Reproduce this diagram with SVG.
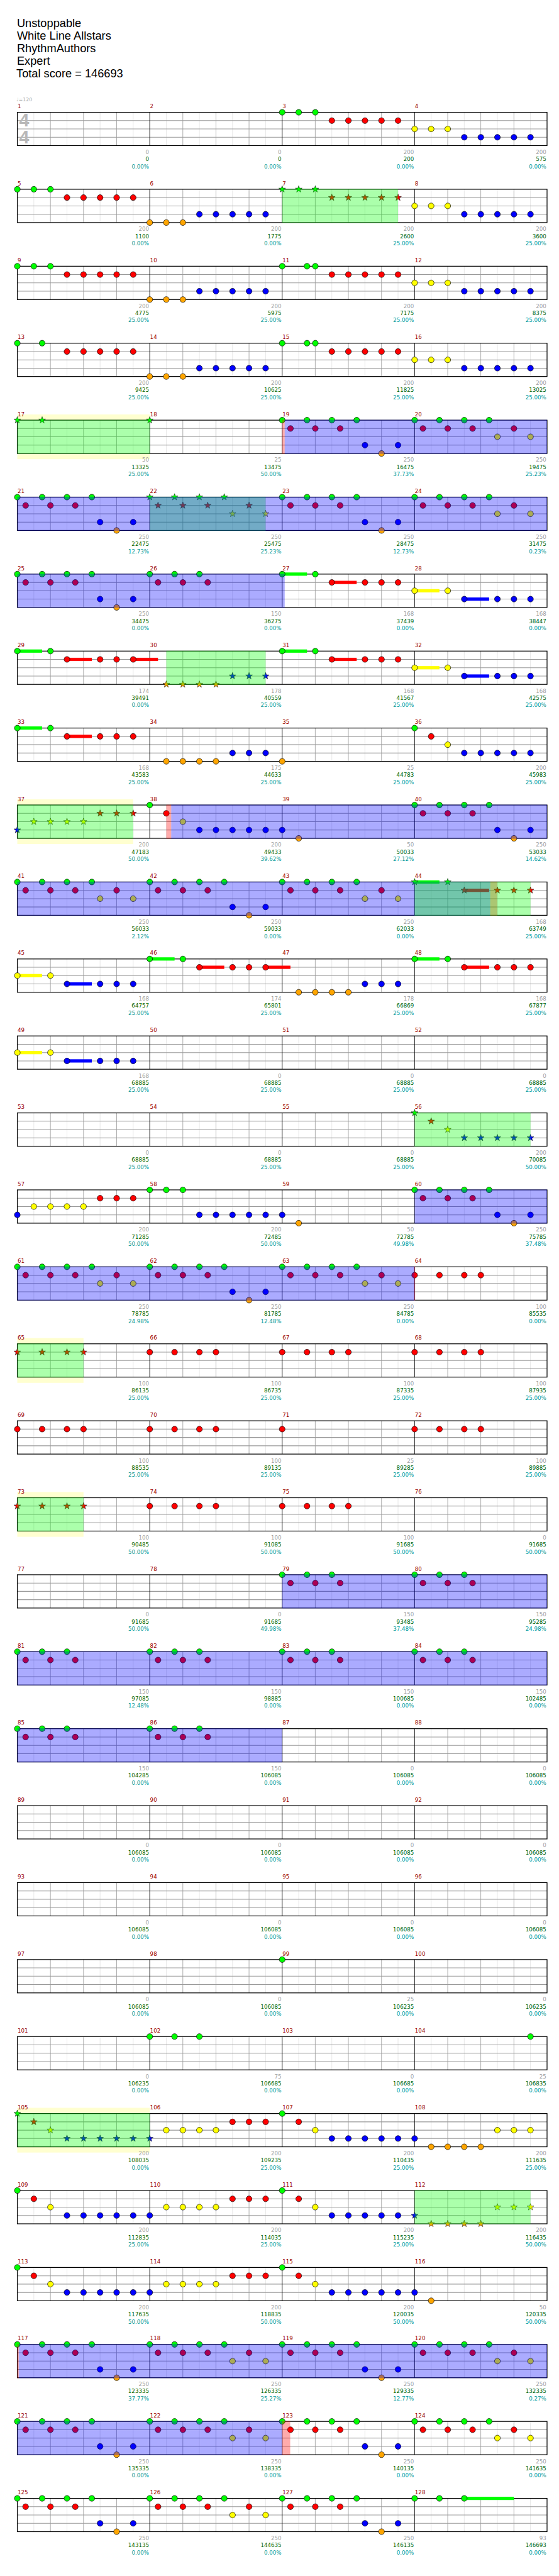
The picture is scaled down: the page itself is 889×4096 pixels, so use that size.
<svg xmlns="http://www.w3.org/2000/svg" width="889" height="4096" viewBox="0 0 889 4096">
<style>
text{font-family:"DejaVu Sans",sans-serif;font-size:10px}
.hd{font-family:"Liberation Sans",sans-serif;font-size:21px;fill:#000}
.ts{font-family:"Liberation Sans",sans-serif;font-weight:bold;font-size:33px;fill:#b8b8b8}
.tp{font-size:9px;fill:#aaa}
.mn{fill:#990000}
.lb{fill:#a0a0a0;text-anchor:end}
.s{fill:#006400}
.p{fill:#009999}
.n{stroke:#000;stroke-width:.8}
.st{stroke:#000;stroke-width:.6}
.g{fill:#00ff00}.r{fill:#ff0000}.y{fill:#ffff00}.b{fill:#0000ff}.o{fill:#ffa500}
.sp{fill:#00ff00;fill-opacity:.33}
.bo{fill:#0000ff;fill-opacity:.33}
.pk{fill:#ff0000;fill-opacity:.33}
.yb{fill:#ffffd0}
</style>
<defs>
<g id="staff">
<rect x="31.7" y="0" width="970.6" height="61" fill="#fff"/>
<path stroke="#e4e4e4" stroke-width="1" fill="none" d="M62 0V61M122.7 0V61M183.4 0V61M244 0V61M304.7 0V61M365.3 0V61M426 0V61M486.7 0V61M547.3 0V61M608 0V61M668.6 0V61M729.3 0V61M790 0V61M850.6 0V61M911.3 0V61M971.9 0V61"/>
<path stroke="#a0a0a0" stroke-width="1" fill="none" d="M92.4 0V61M153 0V61M213.7 0V61M335 0V61M395.7 0V61M456.3 0V61M577.6 0V61M638.3 0V61M699 0V61M820.3 0V61M880.9 0V61M941.6 0V61"/>
<path stroke="#999" stroke-width="1.2" fill="none" d="M31.7 15.25H1002.3M31.7 30.5H1002.3M31.7 45.75H1002.3"/>
<path stroke="#000" stroke-width="1" fill="none" d="M274.35 0V61M517 0V61M759.65 0V61"/>
<rect x="31.7" y="0" width="970.6" height="61" fill="none" stroke="#000" stroke-width="1.4"/>
</g>
<circle id="G" class="n g" r="5.3"/>
<circle id="R" class="n r" cy="15.25" r="5.3"/>
<circle id="Y" class="n y" cy="30.5" r="5.3"/>
<circle id="B" class="n b" cy="45.75" r="5.3"/>
<circle id="O" class="n o" cy="61" r="5.3"/>
<path id="st" class="st" d="M0-6.5L1.53-2.1 6.18-2.01 2.47.8 3.82 5.26 0 2.6-3.82 5.26-2.47.8-6.18-2.01-1.53-2.1Z"/>
<use id="sG" href="#st" class="g"/>
<use id="sR" href="#st" class="r" y="15.25"/>
<use id="sY" href="#st" class="y" y="30.5"/>
<use id="sB" href="#st" class="b" y="45.75"/>
<use id="sO" href="#st" class="o" y="61"/>
<g id="P1"><use href="#G"/><use href="#G" x="30.3"/><use href="#G" x="60.7"/><use href="#R" x="91"/><use href="#R" x="121.3"/><use href="#R" x="151.7"/><use href="#R" x="182"/><use href="#R" x="212.3"/></g>
<g id="P1s"><use href="#sG"/><use href="#sG" x="30.3"/><use href="#sG" x="60.7"/><use href="#sR" x="91"/><use href="#sR" x="121.3"/><use href="#sR" x="151.7"/><use href="#sR" x="182"/><use href="#sR" x="212.3"/></g>
<g id="P1b"><use href="#G"/><use href="#G" x="45.5"/><use href="#G" x="60.7"/><use href="#R" x="91"/><use href="#R" x="121.3"/><use href="#R" x="151.7"/><use href="#R" x="182"/><use href="#R" x="212.3"/></g>
<g id="P1c"><use href="#G"/><use href="#G" x="45.5"/><use href="#R" x="91"/><use href="#R" x="121.3"/><use href="#R" x="151.7"/><use href="#R" x="182"/><use href="#R" x="212.3"/></g>
<g id="P2"><use href="#Y"/><use href="#Y" x="30.3"/><use href="#Y" x="60.7"/><use href="#B" x="91"/><use href="#B" x="121.3"/><use href="#B" x="151.7"/><use href="#B" x="182"/><use href="#B" x="212.3"/></g>
<g id="P3"><use href="#O"/><use href="#O" x="30.3"/><use href="#O" x="60.7"/><use href="#B" x="91"/><use href="#B" x="121.3"/><use href="#B" x="151.7"/><use href="#B" x="182"/><use href="#B" x="212.3"/></g>
<g id="PA"><use href="#G"/><use href="#G" x="45.5"/><use href="#G" x="91"/><use href="#G" x="136.5"/><use href="#R" x="15.2"/><use href="#R" x="60.7"/><use href="#R" x="106.2"/><use href="#B" x="151.7"/><use href="#O" x="182"/><use href="#B" x="212.3"/></g>
<g id="PB"><use href="#G"/><use href="#G" x="45.5"/><use href="#G" x="91"/><use href="#G" x="136.5"/><use href="#R" x="15.2"/><use href="#R" x="60.7"/><use href="#R" x="106.2"/><use href="#R" x="182"/><use href="#Y" x="151.7"/><use href="#Y" x="212.3"/></g>
<g id="PBs"><use href="#sG"/><use href="#sG" x="45.5"/><use href="#sG" x="91"/><use href="#sG" x="136.5"/><use href="#sR" x="15.2"/><use href="#sR" x="60.7"/><use href="#sR" x="106.2"/><use href="#sR" x="182"/><use href="#sY" x="151.7"/><use href="#sY" x="212.3"/></g>
<g id="PC"><use href="#G"/><use href="#G" x="45.5"/><use href="#G" x="91"/><use href="#R" x="15.2"/><use href="#R" x="60.7"/><use href="#R" x="106.2"/></g>
<g id="PR"><use href="#R"/><use href="#R" x="45.5"/><use href="#R" x="91"/><use href="#R" x="121.3"/></g>
<g id="PRs"><use href="#sR"/><use href="#sR" x="45.5"/><use href="#sR" x="91"/><use href="#sR" x="121.3"/></g>
<g id="S1"><rect class="g" y="-3" width="45.5" height="6"/><rect class="r" x="91" y="12.25" width="45.5" height="6"/><use href="#G"/><use href="#G" x="60.7"/><use href="#R" x="91"/><use href="#R" x="151.7"/><use href="#R" x="182"/><use href="#R" x="212.3"/></g>
<g id="S1b"><rect class="g" y="-3" width="45.5" height="6"/><rect class="r" x="91" y="12.25" width="45.5" height="6"/><rect class="r" x="212.3" y="12.25" width="45.5" height="6"/><use href="#G"/><use href="#G" x="60.7"/><use href="#R" x="91"/><use href="#R" x="151.7"/><use href="#R" x="182"/><use href="#R" x="212.3"/></g>
<g id="S2"><rect class="y" y="27.5" width="45.5" height="6"/><rect class="b" x="91" y="42.75" width="45.5" height="6"/><use href="#Y"/><use href="#Y" x="60.7"/><use href="#B" x="91"/><use href="#B" x="151.7"/><use href="#B" x="182"/><use href="#B" x="212.3"/></g>
<g id="Q0"><use href="#G" x="31.7"/><use href="#R" x="62"/><use href="#Y" x="92.4"/><use href="#B" x="122.7"/><use href="#B" x="153"/><use href="#B" x="183.4"/><use href="#B" x="213.7"/><use href="#B" x="244"/><use href="#B" x="274.35"/></g>
<g id="Q1"><use href="#Y" x="304.7"/><use href="#Y" x="335"/><use href="#Y" x="365.3"/><use href="#Y" x="395.7"/><use href="#R" x="426"/><use href="#R" x="456.3"/><use href="#R" x="486.7"/><use href="#G" x="517"/><use href="#R" x="547.3"/><use href="#Y" x="577.6"/><use href="#B" x="608"/><use href="#B" x="638.3"/><use href="#B" x="668.6"/><use href="#B" x="699"/><use href="#B" x="729.3"/></g>
</defs>
<g transform="scale(0.868)">
<g id="header">
<text class="hd" x="31" y="49.3">Unstoppable</text>
<text class="hd" x="31" y="72.3">White Line Allstars</text>
<text class="hd" x="31" y="95.3">RhythmAuthors</text>
<text class="hd" x="31" y="118.3">Expert</text>
<text class="hd" x="30" y="141.3">Total score = 146693</text>
</g>

<g id="row1" transform="translate(0,205.7)">
<use href="#staff"/>
<text class="tp" x="30" y="-20.2">♩=120</text>
<text class="ts" x="35" y="26.3">4</text><text class="ts" x="35" y="56.6">4</text>
<use href="#P1" x="517"/><use href="#P2" x="759.65"/>
<text class="mn" x="32.2" y="-7.3">1</text><text class="mn" x="274.9" y="-7.3">2</text><text class="mn" x="517.5" y="-7.3">3</text><text class="mn" x="760.2" y="-7.3">4</text>
<text class="lb" x="273" y="76.5">0<tspan class="s" x="273" dy="13">0</tspan><tspan class="p" x="273" dy="13.2">0.00%</tspan></text>
<text class="lb" x="515.7" y="76.5">0<tspan class="s" x="515.7" dy="13">0</tspan><tspan class="p" x="515.7" dy="13.2">0.00%</tspan></text>
<text class="lb" x="758.3" y="76.5">200<tspan class="s" x="758.3" dy="13">200</tspan><tspan class="p" x="758.3" dy="13.2">0.00%</tspan></text>
<text class="lb" x="1001" y="76.5">200<tspan class="s" x="1001" dy="13">575</tspan><tspan class="p" x="1001" dy="13.2">0.00%</tspan></text>
</g>

<g id="row2" transform="translate(0,346.7)">
<use href="#staff"/>
<use href="#P1" x="31.7"/><use href="#P3" x="274.35"/><use href="#P1s" x="517"/><use href="#P2" x="759.65"/>
<rect class="sp" x="517" y="-.7" width="212.3" height="62.4"/>
<text class="mn" x="32.2" y="-7.3">5</text><text class="mn" x="274.9" y="-7.3">6</text><text class="mn" x="517.5" y="-7.3">7</text><text class="mn" x="760.2" y="-7.3">8</text>
<text class="lb" x="273" y="76.5">200<tspan class="s" x="273" dy="13">1100</tspan><tspan class="p" x="273" dy="13.2">0.00%</tspan></text>
<text class="lb" x="515.7" y="76.5">200<tspan class="s" x="515.7" dy="13">1775</tspan><tspan class="p" x="515.7" dy="13.2">0.00%</tspan></text>
<text class="lb" x="758.3" y="76.5">200<tspan class="s" x="758.3" dy="13">2600</tspan><tspan class="p" x="758.3" dy="13.2">25.00%</tspan></text>
<text class="lb" x="1001" y="76.5">200<tspan class="s" x="1001" dy="13">3600</tspan><tspan class="p" x="1001" dy="13.2">25.00%</tspan></text>
</g>

<g id="row3" transform="translate(0,487.7)">
<use href="#staff"/>
<use href="#P1" x="31.7"/><use href="#P3" x="274.35"/><use href="#P1b" x="517"/><use href="#P2" x="759.65"/>
<text class="mn" x="32.2" y="-7.3">9</text><text class="mn" x="274.9" y="-7.3">10</text><text class="mn" x="517.5" y="-7.3">11</text><text class="mn" x="760.2" y="-7.3">12</text>
<text class="lb" x="273" y="76.5">200<tspan class="s" x="273" dy="13">4775</tspan><tspan class="p" x="273" dy="13.2">25.00%</tspan></text>
<text class="lb" x="515.7" y="76.5">200<tspan class="s" x="515.7" dy="13">5975</tspan><tspan class="p" x="515.7" dy="13.2">25.00%</tspan></text>
<text class="lb" x="758.3" y="76.5">200<tspan class="s" x="758.3" dy="13">7175</tspan><tspan class="p" x="758.3" dy="13.2">25.00%</tspan></text>
<text class="lb" x="1001" y="76.5">200<tspan class="s" x="1001" dy="13">8375</tspan><tspan class="p" x="1001" dy="13.2">25.00%</tspan></text>
</g>

<g id="row4" transform="translate(0,628.7)">
<use href="#staff"/>
<use href="#P1c" x="31.7"/><use href="#P3" x="274.35"/><use href="#P1b" x="517"/><use href="#P2" x="759.65"/>
<text class="mn" x="32.2" y="-7.3">13</text><text class="mn" x="274.9" y="-7.3">14</text><text class="mn" x="517.5" y="-7.3">15</text><text class="mn" x="760.2" y="-7.3">16</text>
<text class="lb" x="273" y="76.5">200<tspan class="s" x="273" dy="13">9425</tspan><tspan class="p" x="273" dy="13.2">25.00%</tspan></text>
<text class="lb" x="515.7" y="76.5">200<tspan class="s" x="515.7" dy="13">10625</tspan><tspan class="p" x="515.7" dy="13.2">25.00%</tspan></text>
<text class="lb" x="758.3" y="76.5">200<tspan class="s" x="758.3" dy="13">11825</tspan><tspan class="p" x="758.3" dy="13.2">25.00%</tspan></text>
<text class="lb" x="1001" y="76.5">200<tspan class="s" x="1001" dy="13">13025</tspan><tspan class="p" x="1001" dy="13.2">25.00%</tspan></text>
</g>

<g id="row5" transform="translate(0,769.7)">
<rect class="yb" x="31.7" y="-10.5" width="242.65" height="82"/>
<use href="#staff"/>
<use href="#sG" x="31.7"/><use href="#sG" x="77.2"/><use href="#sG" x="274.35"/>
<use href="#PA" x="517"/><use href="#PB" x="759.65"/>
<rect class="sp" x="31.7" y="-.7" width="242.65" height="62.4"/>
<rect class="pk" x="517" y="-.7" width="4.6" height="62.4"/>
<rect class="bo" x="521.6" y="-.7" width="480.7" height="62.4"/>
<text class="mn" x="32.2" y="-7.3">17</text><text class="mn" x="274.9" y="-7.3">18</text><text class="mn" x="517.5" y="-7.3">19</text><text class="mn" x="760.2" y="-7.3">20</text>
<text class="lb" x="273" y="76.5">50<tspan class="s" x="273" dy="13">13325</tspan><tspan class="p" x="273" dy="13.2">25.00%</tspan></text>
<text class="lb" x="515.7" y="76.5">25<tspan class="s" x="515.7" dy="13">13475</tspan><tspan class="p" x="515.7" dy="13.2">50.00%</tspan></text>
<text class="lb" x="758.3" y="76.5">250<tspan class="s" x="758.3" dy="13">16475</tspan><tspan class="p" x="758.3" dy="13.2">37.73%</tspan></text>
<text class="lb" x="1001" y="76.5">250<tspan class="s" x="1001" dy="13">19475</tspan><tspan class="p" x="1001" dy="13.2">25.23%</tspan></text>
</g>

<g id="row6" transform="translate(0,910.7)">
<use href="#staff"/>
<use href="#PA" x="31.7"/><use href="#PBs" x="274.35"/><use href="#PA" x="517"/><use href="#PB" x="759.65"/>
<rect class="sp" x="274.35" y="-.7" width="212.3" height="62.4"/>
<rect class="bo" x="31.7" y="-.7" width="970.6" height="62.4"/>
<text class="mn" x="32.2" y="-7.3">21</text><text class="mn" x="274.9" y="-7.3">22</text><text class="mn" x="517.5" y="-7.3">23</text><text class="mn" x="760.2" y="-7.3">24</text>
<text class="lb" x="273" y="76.5">250<tspan class="s" x="273" dy="13">22475</tspan><tspan class="p" x="273" dy="13.2">12.73%</tspan></text>
<text class="lb" x="515.7" y="76.5">250<tspan class="s" x="515.7" dy="13">25475</tspan><tspan class="p" x="515.7" dy="13.2">25.23%</tspan></text>
<text class="lb" x="758.3" y="76.5">250<tspan class="s" x="758.3" dy="13">28475</tspan><tspan class="p" x="758.3" dy="13.2">12.73%</tspan></text>
<text class="lb" x="1001" y="76.5">250<tspan class="s" x="1001" dy="13">31475</tspan><tspan class="p" x="1001" dy="13.2">0.23%</tspan></text>
</g>

<g id="row7" transform="translate(0,1051.7)">
<use href="#staff"/>
<use href="#PA" x="31.7"/><use href="#PC" x="274.35"/><use href="#S1" x="517"/><use href="#S2" x="759.65"/>
<rect class="bo" x="31.7" y="-.7" width="489.9" height="62.4"/>
<text class="mn" x="32.2" y="-7.3">25</text><text class="mn" x="274.9" y="-7.3">26</text><text class="mn" x="517.5" y="-7.3">27</text><text class="mn" x="760.2" y="-7.3">28</text>
<text class="lb" x="273" y="76.5">250<tspan class="s" x="273" dy="13">34475</tspan><tspan class="p" x="273" dy="13.2">0.00%</tspan></text>
<text class="lb" x="515.7" y="76.5">150<tspan class="s" x="515.7" dy="13">36275</tspan><tspan class="p" x="515.7" dy="13.2">0.00%</tspan></text>
<text class="lb" x="758.3" y="76.5">168<tspan class="s" x="758.3" dy="13">37439</tspan><tspan class="p" x="758.3" dy="13.2">0.00%</tspan></text>
<text class="lb" x="1001" y="76.5">168<tspan class="s" x="1001" dy="13">38447</tspan><tspan class="p" x="1001" dy="13.2">0.00%</tspan></text>
</g>

<g id="row8" transform="translate(0,1192.7)">
<use href="#staff"/>
<use href="#S1b" x="31.7"/>
<use href="#sO" x="304.7"/><use href="#sO" x="335"/><use href="#sO" x="365.3"/><use href="#sO" x="395.7"/>
<use href="#sB" x="426"/><use href="#sB" x="456.3"/><use href="#sB" x="486.7"/>
<use href="#S1" x="517"/><use href="#S2" x="759.65"/>
<rect class="sp" x="304.7" y="-.7" width="182" height="62.4"/>
<text class="mn" x="32.2" y="-7.3">29</text><text class="mn" x="274.9" y="-7.3">30</text><text class="mn" x="517.5" y="-7.3">31</text><text class="mn" x="760.2" y="-7.3">32</text>
<text class="lb" x="273" y="76.5">174<tspan class="s" x="273" dy="13">39491</tspan><tspan class="p" x="273" dy="13.2">0.00%</tspan></text>
<text class="lb" x="515.7" y="76.5">178<tspan class="s" x="515.7" dy="13">40559</tspan><tspan class="p" x="515.7" dy="13.2">25.00%</tspan></text>
<text class="lb" x="758.3" y="76.5">168<tspan class="s" x="758.3" dy="13">41567</tspan><tspan class="p" x="758.3" dy="13.2">25.00%</tspan></text>
<text class="lb" x="1001" y="76.5">168<tspan class="s" x="1001" dy="13">42575</tspan><tspan class="p" x="1001" dy="13.2">25.00%</tspan></text>
</g>

<g id="row9" transform="translate(0,1333.7)">
<use href="#staff"/>
<use href="#S1" x="31.7"/>
<use href="#O" x="304.7"/><use href="#O" x="335"/><use href="#O" x="365.3"/><use href="#O" x="395.7"/>
<use href="#B" x="426"/><use href="#B" x="456.3"/><use href="#B" x="486.7"/><use href="#O" x="517"/>
<use href="#G" x="759.65"/><use href="#R" x="790"/><use href="#Y" x="820.3"/>
<use href="#B" x="850.6"/><use href="#B" x="880.9"/><use href="#B" x="911.3"/><use href="#B" x="941.6"/><use href="#B" x="971.9"/>
<text class="mn" x="32.2" y="-7.3">33</text><text class="mn" x="274.9" y="-7.3">34</text><text class="mn" x="517.5" y="-7.3">35</text><text class="mn" x="760.2" y="-7.3">36</text>
<text class="lb" x="273" y="76.5">168<tspan class="s" x="273" dy="13">43583</tspan><tspan class="p" x="273" dy="13.2">25.00%</tspan></text>
<text class="lb" x="515.7" y="76.5">175<tspan class="s" x="515.7" dy="13">44633</tspan><tspan class="p" x="515.7" dy="13.2">25.00%</tspan></text>
<text class="lb" x="758.3" y="76.5">25<tspan class="s" x="758.3" dy="13">44783</tspan><tspan class="p" x="758.3" dy="13.2">25.00%</tspan></text>
<text class="lb" x="1001" y="76.5">200<tspan class="s" x="1001" dy="13">45983</tspan><tspan class="p" x="1001" dy="13.2">25.00%</tspan></text>
</g>

<g id="row10" transform="translate(0,1474.7)">
<rect class="yb" x="31.7" y="-10.5" width="212.3" height="82"/>
<use href="#staff"/>
<use href="#sB" x="31.7"/><use href="#sY" x="62"/><use href="#sY" x="92.4"/><use href="#sY" x="122.7"/><use href="#sY" x="153"/>
<use href="#sR" x="183.4"/><use href="#sR" x="213.7"/><use href="#sR" x="244"/>
<use href="#G" x="274.35"/><use href="#R" x="304.7"/><use href="#Y" x="335"/>
<use href="#B" x="365.3"/><use href="#B" x="395.7"/><use href="#B" x="426"/><use href="#B" x="456.3"/><use href="#B" x="486.7"/><use href="#B" x="517"/><use href="#O" x="547.3"/>
<use href="#PA" x="759.65"/>
<rect class="sp" x="31.7" y="-.7" width="212.3" height="62.4"/>
<rect class="pk" x="304.7" y="-.7" width="9" height="62.4"/>
<rect class="bo" x="313.7" y="-.7" width="688.6" height="62.4"/>
<text class="mn" x="32.2" y="-7.3">37</text><text class="mn" x="274.9" y="-7.3">38</text><text class="mn" x="517.5" y="-7.3">39</text><text class="mn" x="760.2" y="-7.3">40</text>
<text class="lb" x="273" y="76.5">200<tspan class="s" x="273" dy="13">47183</tspan><tspan class="p" x="273" dy="13.2">50.00%</tspan></text>
<text class="lb" x="515.7" y="76.5">200<tspan class="s" x="515.7" dy="13">49433</tspan><tspan class="p" x="515.7" dy="13.2">39.62%</tspan></text>
<text class="lb" x="758.3" y="76.5">50<tspan class="s" x="758.3" dy="13">50033</tspan><tspan class="p" x="758.3" dy="13.2">27.12%</tspan></text>
<text class="lb" x="1001" y="76.5">250<tspan class="s" x="1001" dy="13">53033</tspan><tspan class="p" x="1001" dy="13.2">14.62%</tspan></text>
</g>

<g id="row11" transform="translate(0,1615.7)">
<use href="#staff"/>
<use href="#PB" x="31.7"/><use href="#PA" x="274.35"/><use href="#PB" x="517"/>
<rect class="g" x="759.65" y="-3" width="45.5" height="6"/><rect class="r" x="850.6" y="12.25" width="45.5" height="6"/>
<use href="#sG" x="759.65"/><use href="#sG" x="820.3"/>
<use href="#sR" x="850.6"/><use href="#sR" x="911.3"/><use href="#sR" x="941.6"/><use href="#sR" x="971.9"/>
<rect class="bo" x="31.7" y="-.7" width="866.6" height="62.4"/>
<rect class="pk" x="898.3" y="-.7" width="13" height="62.4"/>
<rect class="sp" x="759.65" y="-.7" width="212.3" height="62.4"/>
<text class="mn" x="32.2" y="-7.3">41</text><text class="mn" x="274.9" y="-7.3">42</text><text class="mn" x="517.5" y="-7.3">43</text><text class="mn" x="760.2" y="-7.3">44</text>
<text class="lb" x="273" y="76.5">250<tspan class="s" x="273" dy="13">56033</tspan><tspan class="p" x="273" dy="13.2">2.12%</tspan></text>
<text class="lb" x="515.7" y="76.5">250<tspan class="s" x="515.7" dy="13">59033</tspan><tspan class="p" x="515.7" dy="13.2">0.00%</tspan></text>
<text class="lb" x="758.3" y="76.5">250<tspan class="s" x="758.3" dy="13">62033</tspan><tspan class="p" x="758.3" dy="13.2">0.00%</tspan></text>
<text class="lb" x="1001" y="76.5">168<tspan class="s" x="1001" dy="13">63749</tspan><tspan class="p" x="1001" dy="13.2">25.00%</tspan></text>
</g>

<g id="row12" transform="translate(0,1756.7)">
<use href="#staff"/>
<use href="#S2" x="31.7"/><use href="#S1b" x="274.35"/>
<use href="#O" x="547.3"/><use href="#O" x="577.6"/><use href="#O" x="608"/><use href="#O" x="638.3"/>
<use href="#B" x="668.6"/><use href="#B" x="699"/><use href="#B" x="729.3"/>
<use href="#S1" x="759.65"/>
<text class="mn" x="32.2" y="-7.3">45</text><text class="mn" x="274.9" y="-7.3">46</text><text class="mn" x="517.5" y="-7.3">47</text><text class="mn" x="760.2" y="-7.3">48</text>
<text class="lb" x="273" y="76.5">168<tspan class="s" x="273" dy="13">64757</tspan><tspan class="p" x="273" dy="13.2">25.00%</tspan></text>
<text class="lb" x="515.7" y="76.5">174<tspan class="s" x="515.7" dy="13">65801</tspan><tspan class="p" x="515.7" dy="13.2">25.00%</tspan></text>
<text class="lb" x="758.3" y="76.5">178<tspan class="s" x="758.3" dy="13">66869</tspan><tspan class="p" x="758.3" dy="13.2">25.00%</tspan></text>
<text class="lb" x="1001" y="76.5">168<tspan class="s" x="1001" dy="13">67877</tspan><tspan class="p" x="1001" dy="13.2">25.00%</tspan></text>
</g>

<g id="row13" transform="translate(0,1897.7)">
<use href="#staff"/>
<use href="#S2" x="31.7"/>
<text class="mn" x="32.2" y="-7.3">49</text><text class="mn" x="274.9" y="-7.3">50</text><text class="mn" x="517.5" y="-7.3">51</text><text class="mn" x="760.2" y="-7.3">52</text>
<text class="lb" x="273" y="76.5">168<tspan class="s" x="273" dy="13">68885</tspan><tspan class="p" x="273" dy="13.2">25.00%</tspan></text>
<text class="lb" x="515.7" y="76.5">0<tspan class="s" x="515.7" dy="13">68885</tspan><tspan class="p" x="515.7" dy="13.2">25.00%</tspan></text>
<text class="lb" x="758.3" y="76.5">0<tspan class="s" x="758.3" dy="13">68885</tspan><tspan class="p" x="758.3" dy="13.2">25.00%</tspan></text>
<text class="lb" x="1001" y="76.5">0<tspan class="s" x="1001" dy="13">68885</tspan><tspan class="p" x="1001" dy="13.2">25.00%</tspan></text>
</g>

<g id="row14" transform="translate(0,2038.7)">
<use href="#staff"/>
<use href="#sG" x="759.65"/><use href="#sR" x="790"/><use href="#sY" x="820.3"/>
<use href="#sB" x="850.6"/><use href="#sB" x="880.9"/><use href="#sB" x="911.3"/><use href="#sB" x="941.6"/><use href="#sB" x="971.9"/>
<rect class="sp" x="759.65" y="-.7" width="212.3" height="62.4"/>
<text class="mn" x="32.2" y="-7.3">53</text><text class="mn" x="274.9" y="-7.3">54</text><text class="mn" x="517.5" y="-7.3">55</text><text class="mn" x="760.2" y="-7.3">56</text>
<text class="lb" x="273" y="76.5">0<tspan class="s" x="273" dy="13">68885</tspan><tspan class="p" x="273" dy="13.2">25.00%</tspan></text>
<text class="lb" x="515.7" y="76.5">0<tspan class="s" x="515.7" dy="13">68885</tspan><tspan class="p" x="515.7" dy="13.2">25.00%</tspan></text>
<text class="lb" x="758.3" y="76.5">0<tspan class="s" x="758.3" dy="13">68885</tspan><tspan class="p" x="758.3" dy="13.2">25.00%</tspan></text>
<text class="lb" x="1001" y="76.5">200<tspan class="s" x="1001" dy="13">70085</tspan><tspan class="p" x="1001" dy="13.2">50.00%</tspan></text>
</g>

<g id="row15" transform="translate(0,2179.7)">
<use href="#staff"/>
<use href="#B" x="31.7"/><use href="#Y" x="62"/><use href="#Y" x="92.4"/><use href="#Y" x="122.7"/><use href="#Y" x="153"/>
<use href="#R" x="183.4"/><use href="#R" x="213.7"/><use href="#R" x="244"/>
<use href="#G" x="274.35"/><use href="#G" x="304.7"/><use href="#G" x="335"/>
<use href="#B" x="365.3"/><use href="#B" x="395.7"/><use href="#B" x="426"/><use href="#B" x="456.3"/><use href="#B" x="486.7"/><use href="#B" x="517"/><use href="#O" x="547.3"/>
<use href="#PA" x="759.65"/>
<rect class="bo" x="759.65" y="-.7" width="242.65" height="62.4"/>
<text class="mn" x="32.2" y="-7.3">57</text><text class="mn" x="274.9" y="-7.3">58</text><text class="mn" x="517.5" y="-7.3">59</text><text class="mn" x="760.2" y="-7.3">60</text>
<text class="lb" x="273" y="76.5">200<tspan class="s" x="273" dy="13">71285</tspan><tspan class="p" x="273" dy="13.2">50.00%</tspan></text>
<text class="lb" x="515.7" y="76.5">200<tspan class="s" x="515.7" dy="13">72485</tspan><tspan class="p" x="515.7" dy="13.2">50.00%</tspan></text>
<text class="lb" x="758.3" y="76.5">50<tspan class="s" x="758.3" dy="13">72785</tspan><tspan class="p" x="758.3" dy="13.2">49.98%</tspan></text>
<text class="lb" x="1001" y="76.5">250<tspan class="s" x="1001" dy="13">75785</tspan><tspan class="p" x="1001" dy="13.2">37.48%</tspan></text>
</g>

<g id="row16" transform="translate(0,2320.7)">
<use href="#staff"/>
<use href="#PB" x="31.7"/><use href="#PA" x="274.35"/><use href="#PB" x="517"/><use href="#PR" x="759.65"/>
<rect class="bo" x="31.7" y="-.7" width="727.95" height="62.4"/>
<rect class="pk" x="758.9" y="-.7" width="1.8" height="62.4"/>
<text class="mn" x="32.2" y="-7.3">61</text><text class="mn" x="274.9" y="-7.3">62</text><text class="mn" x="517.5" y="-7.3">63</text><text class="mn" x="760.2" y="-7.3">64</text>
<text class="lb" x="273" y="76.5">250<tspan class="s" x="273" dy="13">78785</tspan><tspan class="p" x="273" dy="13.2">24.98%</tspan></text>
<text class="lb" x="515.7" y="76.5">250<tspan class="s" x="515.7" dy="13">81785</tspan><tspan class="p" x="515.7" dy="13.2">12.48%</tspan></text>
<text class="lb" x="758.3" y="76.5">250<tspan class="s" x="758.3" dy="13">84785</tspan><tspan class="p" x="758.3" dy="13.2">0.00%</tspan></text>
<text class="lb" x="1001" y="76.5">100<tspan class="s" x="1001" dy="13">85535</tspan><tspan class="p" x="1001" dy="13.2">0.00%</tspan></text>
</g>

<g id="row17" transform="translate(0,2461.7)">
<rect class="yb" x="31.7" y="-10.5" width="121.3" height="82"/>
<use href="#staff"/>
<use href="#PRs" x="31.7"/><use href="#PR" x="274.35"/><use href="#PR" x="517"/><use href="#PR" x="759.65"/>
<rect class="sp" x="31.7" y="-.7" width="121.3" height="62.4"/>
<text class="mn" x="32.2" y="-7.3">65</text><text class="mn" x="274.9" y="-7.3">66</text><text class="mn" x="517.5" y="-7.3">67</text><text class="mn" x="760.2" y="-7.3">68</text>
<text class="lb" x="273" y="76.5">100<tspan class="s" x="273" dy="13">86135</tspan><tspan class="p" x="273" dy="13.2">25.00%</tspan></text>
<text class="lb" x="515.7" y="76.5">100<tspan class="s" x="515.7" dy="13">86735</tspan><tspan class="p" x="515.7" dy="13.2">25.00%</tspan></text>
<text class="lb" x="758.3" y="76.5">100<tspan class="s" x="758.3" dy="13">87335</tspan><tspan class="p" x="758.3" dy="13.2">25.00%</tspan></text>
<text class="lb" x="1001" y="76.5">100<tspan class="s" x="1001" dy="13">87935</tspan><tspan class="p" x="1001" dy="13.2">25.00%</tspan></text>
</g>

<g id="row18" transform="translate(0,2602.7)">
<use href="#staff"/>
<use href="#PR" x="31.7"/><use href="#PR" x="274.35"/><use href="#R" x="517"/><use href="#PR" x="759.65"/>
<text class="mn" x="32.2" y="-7.3">69</text><text class="mn" x="274.9" y="-7.3">70</text><text class="mn" x="517.5" y="-7.3">71</text><text class="mn" x="760.2" y="-7.3">72</text>
<text class="lb" x="273" y="76.5">100<tspan class="s" x="273" dy="13">88535</tspan><tspan class="p" x="273" dy="13.2">25.00%</tspan></text>
<text class="lb" x="515.7" y="76.5">100<tspan class="s" x="515.7" dy="13">89135</tspan><tspan class="p" x="515.7" dy="13.2">25.00%</tspan></text>
<text class="lb" x="758.3" y="76.5">25<tspan class="s" x="758.3" dy="13">89285</tspan><tspan class="p" x="758.3" dy="13.2">25.00%</tspan></text>
<text class="lb" x="1001" y="76.5">100<tspan class="s" x="1001" dy="13">89885</tspan><tspan class="p" x="1001" dy="13.2">25.00%</tspan></text>
</g>

<g id="row19" transform="translate(0,2743.7)">
<rect class="yb" x="31.7" y="-10.5" width="121.3" height="82"/>
<use href="#staff"/>
<use href="#PRs" x="31.7"/><use href="#PR" x="274.35"/><use href="#PR" x="517"/>
<rect class="sp" x="31.7" y="-.7" width="121.3" height="62.4"/>
<text class="mn" x="32.2" y="-7.3">73</text><text class="mn" x="274.9" y="-7.3">74</text><text class="mn" x="517.5" y="-7.3">75</text><text class="mn" x="760.2" y="-7.3">76</text>
<text class="lb" x="273" y="76.5">100<tspan class="s" x="273" dy="13">90485</tspan><tspan class="p" x="273" dy="13.2">50.00%</tspan></text>
<text class="lb" x="515.7" y="76.5">100<tspan class="s" x="515.7" dy="13">91085</tspan><tspan class="p" x="515.7" dy="13.2">50.00%</tspan></text>
<text class="lb" x="758.3" y="76.5">100<tspan class="s" x="758.3" dy="13">91685</tspan><tspan class="p" x="758.3" dy="13.2">50.00%</tspan></text>
<text class="lb" x="1001" y="76.5">0<tspan class="s" x="1001" dy="13">91685</tspan><tspan class="p" x="1001" dy="13.2">50.00%</tspan></text>
</g>

<g id="row20" transform="translate(0,2884.7)">
<use href="#staff"/>
<use href="#PC" x="517"/><use href="#PC" x="759.65"/>
<rect class="bo" x="517" y="-.7" width="485.3" height="62.4"/>
<text class="mn" x="32.2" y="-7.3">77</text><text class="mn" x="274.9" y="-7.3">78</text><text class="mn" x="517.5" y="-7.3">79</text><text class="mn" x="760.2" y="-7.3">80</text>
<text class="lb" x="273" y="76.5">0<tspan class="s" x="273" dy="13">91685</tspan><tspan class="p" x="273" dy="13.2">50.00%</tspan></text>
<text class="lb" x="515.7" y="76.5">0<tspan class="s" x="515.7" dy="13">91685</tspan><tspan class="p" x="515.7" dy="13.2">49.98%</tspan></text>
<text class="lb" x="758.3" y="76.5">150<tspan class="s" x="758.3" dy="13">93485</tspan><tspan class="p" x="758.3" dy="13.2">37.48%</tspan></text>
<text class="lb" x="1001" y="76.5">150<tspan class="s" x="1001" dy="13">95285</tspan><tspan class="p" x="1001" dy="13.2">24.98%</tspan></text>
</g>

<g id="row21" transform="translate(0,3025.7)">
<use href="#staff"/>
<use href="#PC" x="31.7"/><use href="#PC" x="274.35"/><use href="#PC" x="517"/><use href="#PC" x="759.65"/>
<rect class="bo" x="31.7" y="-.7" width="970.6" height="62.4"/>
<text class="mn" x="32.2" y="-7.3">81</text><text class="mn" x="274.9" y="-7.3">82</text><text class="mn" x="517.5" y="-7.3">83</text><text class="mn" x="760.2" y="-7.3">84</text>
<text class="lb" x="273" y="76.5">150<tspan class="s" x="273" dy="13">97085</tspan><tspan class="p" x="273" dy="13.2">12.48%</tspan></text>
<text class="lb" x="515.7" y="76.5">150<tspan class="s" x="515.7" dy="13">98885</tspan><tspan class="p" x="515.7" dy="13.2">0.00%</tspan></text>
<text class="lb" x="758.3" y="76.5">150<tspan class="s" x="758.3" dy="13">100685</tspan><tspan class="p" x="758.3" dy="13.2">0.00%</tspan></text>
<text class="lb" x="1001" y="76.5">150<tspan class="s" x="1001" dy="13">102485</tspan><tspan class="p" x="1001" dy="13.2">0.00%</tspan></text>
</g>

<g id="row22" transform="translate(0,3166.7)">
<use href="#staff"/>
<use href="#PC" x="31.7"/><use href="#PC" x="274.35"/>
<rect class="bo" x="31.7" y="-.7" width="485.3" height="62.4"/>
<text class="mn" x="32.2" y="-7.3">85</text><text class="mn" x="274.9" y="-7.3">86</text><text class="mn" x="517.5" y="-7.3">87</text><text class="mn" x="760.2" y="-7.3">88</text>
<text class="lb" x="273" y="76.5">150<tspan class="s" x="273" dy="13">104285</tspan><tspan class="p" x="273" dy="13.2">0.00%</tspan></text>
<text class="lb" x="515.7" y="76.5">150<tspan class="s" x="515.7" dy="13">106085</tspan><tspan class="p" x="515.7" dy="13.2">0.00%</tspan></text>
<text class="lb" x="758.3" y="76.5">0<tspan class="s" x="758.3" dy="13">106085</tspan><tspan class="p" x="758.3" dy="13.2">0.00%</tspan></text>
<text class="lb" x="1001" y="76.5">0<tspan class="s" x="1001" dy="13">106085</tspan><tspan class="p" x="1001" dy="13.2">0.00%</tspan></text>
</g>

<g id="row23" transform="translate(0,3307.7)">
<use href="#staff"/>
<text class="mn" x="32.2" y="-7.3">89</text><text class="mn" x="274.9" y="-7.3">90</text><text class="mn" x="517.5" y="-7.3">91</text><text class="mn" x="760.2" y="-7.3">92</text>
<text class="lb" x="273" y="76.5">0<tspan class="s" x="273" dy="13">106085</tspan><tspan class="p" x="273" dy="13.2">0.00%</tspan></text>
<text class="lb" x="515.7" y="76.5">0<tspan class="s" x="515.7" dy="13">106085</tspan><tspan class="p" x="515.7" dy="13.2">0.00%</tspan></text>
<text class="lb" x="758.3" y="76.5">0<tspan class="s" x="758.3" dy="13">106085</tspan><tspan class="p" x="758.3" dy="13.2">0.00%</tspan></text>
<text class="lb" x="1001" y="76.5">0<tspan class="s" x="1001" dy="13">106085</tspan><tspan class="p" x="1001" dy="13.2">0.00%</tspan></text>
</g>

<g id="row24" transform="translate(0,3448.7)">
<use href="#staff"/>
<text class="mn" x="32.2" y="-7.3">93</text><text class="mn" x="274.9" y="-7.3">94</text><text class="mn" x="517.5" y="-7.3">95</text><text class="mn" x="760.2" y="-7.3">96</text>
<text class="lb" x="273" y="76.5">0<tspan class="s" x="273" dy="13">106085</tspan><tspan class="p" x="273" dy="13.2">0.00%</tspan></text>
<text class="lb" x="515.7" y="76.5">0<tspan class="s" x="515.7" dy="13">106085</tspan><tspan class="p" x="515.7" dy="13.2">0.00%</tspan></text>
<text class="lb" x="758.3" y="76.5">0<tspan class="s" x="758.3" dy="13">106085</tspan><tspan class="p" x="758.3" dy="13.2">0.00%</tspan></text>
<text class="lb" x="1001" y="76.5">0<tspan class="s" x="1001" dy="13">106085</tspan><tspan class="p" x="1001" dy="13.2">0.00%</tspan></text>
</g>

<g id="row25" transform="translate(0,3589.7)">
<use href="#staff"/>
<use href="#G" x="517"/>
<text class="mn" x="32.2" y="-7.3">97</text><text class="mn" x="274.9" y="-7.3">98</text><text class="mn" x="517.5" y="-7.3">99</text><text class="mn" x="760.2" y="-7.3">100</text>
<text class="lb" x="273" y="76.5">0<tspan class="s" x="273" dy="13">106085</tspan><tspan class="p" x="273" dy="13.2">0.00%</tspan></text>
<text class="lb" x="515.7" y="76.5">0<tspan class="s" x="515.7" dy="13">106085</tspan><tspan class="p" x="515.7" dy="13.2">0.00%</tspan></text>
<text class="lb" x="758.3" y="76.5">25<tspan class="s" x="758.3" dy="13">106235</tspan><tspan class="p" x="758.3" dy="13.2">0.00%</tspan></text>
<text class="lb" x="1001" y="76.5">0<tspan class="s" x="1001" dy="13">106235</tspan><tspan class="p" x="1001" dy="13.2">0.00%</tspan></text>
</g>

<g id="row26" transform="translate(0,3730.7)">
<use href="#staff"/>
<use href="#G" x="274.35"/><use href="#G" x="319.8"/><use href="#G" x="365.3"/><use href="#G" x="971.9"/>
<text class="mn" x="32.2" y="-7.3">101</text><text class="mn" x="274.9" y="-7.3">102</text><text class="mn" x="517.5" y="-7.3">103</text><text class="mn" x="760.2" y="-7.3">104</text>
<text class="lb" x="273" y="76.5">0<tspan class="s" x="273" dy="13">106235</tspan><tspan class="p" x="273" dy="13.2">0.00%</tspan></text>
<text class="lb" x="515.7" y="76.5">75<tspan class="s" x="515.7" dy="13">106685</tspan><tspan class="p" x="515.7" dy="13.2">0.00%</tspan></text>
<text class="lb" x="758.3" y="76.5">0<tspan class="s" x="758.3" dy="13">106685</tspan><tspan class="p" x="758.3" dy="13.2">0.00%</tspan></text>
<text class="lb" x="1001" y="76.5">25<tspan class="s" x="1001" dy="13">106835</tspan><tspan class="p" x="1001" dy="13.2">0.00%</tspan></text>
</g>

<g id="row27" transform="translate(0,3871.7)">
<rect class="yb" x="31.7" y="-10.5" width="242.65" height="82"/>
<use href="#staff"/>
<use href="#sG" x="31.7"/><use href="#sR" x="62"/><use href="#sY" x="92.4"/>
<use href="#sB" x="122.7"/><use href="#sB" x="153"/><use href="#sB" x="183.4"/><use href="#sB" x="213.7"/><use href="#sB" x="244"/><use href="#sB" x="274.35"/>
<use href="#Q1"/>
<use href="#B" x="759.65"/><use href="#O" x="790"/><use href="#O" x="820.3"/><use href="#O" x="850.6"/><use href="#O" x="880.9"/>
<use href="#Y" x="911.3"/><use href="#Y" x="941.6"/><use href="#Y" x="971.9"/>
<rect class="sp" x="31.7" y="-.7" width="242.65" height="62.4"/>
<text class="mn" x="32.2" y="-7.3">105</text><text class="mn" x="274.9" y="-7.3">106</text><text class="mn" x="517.5" y="-7.3">107</text><text class="mn" x="760.2" y="-7.3">108</text>
<text class="lb" x="273" y="76.5">200<tspan class="s" x="273" dy="13">108035</tspan><tspan class="p" x="273" dy="13.2">0.00%</tspan></text>
<text class="lb" x="515.7" y="76.5">200<tspan class="s" x="515.7" dy="13">109235</tspan><tspan class="p" x="515.7" dy="13.2">25.00%</tspan></text>
<text class="lb" x="758.3" y="76.5">200<tspan class="s" x="758.3" dy="13">110435</tspan><tspan class="p" x="758.3" dy="13.2">25.00%</tspan></text>
<text class="lb" x="1001" y="76.5">200<tspan class="s" x="1001" dy="13">111635</tspan><tspan class="p" x="1001" dy="13.2">25.00%</tspan></text>
</g>

<g id="row28" transform="translate(0,4012.7)">
<use href="#staff"/>
<use href="#Q0"/><use href="#Q1"/>
<use href="#sB" x="759.65"/><use href="#sO" x="790"/><use href="#sO" x="820.3"/><use href="#sO" x="850.6"/><use href="#sO" x="880.9"/>
<use href="#sY" x="911.3"/><use href="#sY" x="941.6"/><use href="#sY" x="971.9"/>
<rect class="sp" x="759.65" y="-.7" width="212.3" height="62.4"/>
<text class="mn" x="32.2" y="-7.3">109</text><text class="mn" x="274.9" y="-7.3">110</text><text class="mn" x="517.5" y="-7.3">111</text><text class="mn" x="760.2" y="-7.3">112</text>
<text class="lb" x="273" y="76.5">200<tspan class="s" x="273" dy="13">112835</tspan><tspan class="p" x="273" dy="13.2">25.00%</tspan></text>
<text class="lb" x="515.7" y="76.5">200<tspan class="s" x="515.7" dy="13">114035</tspan><tspan class="p" x="515.7" dy="13.2">25.00%</tspan></text>
<text class="lb" x="758.3" y="76.5">200<tspan class="s" x="758.3" dy="13">115235</tspan><tspan class="p" x="758.3" dy="13.2">25.00%</tspan></text>
<text class="lb" x="1001" y="76.5">200<tspan class="s" x="1001" dy="13">116435</tspan><tspan class="p" x="1001" dy="13.2">50.00%</tspan></text>
</g>

<g id="row29" transform="translate(0,4153.7)">
<use href="#staff"/>
<use href="#Q0"/><use href="#Q1"/>
<use href="#B" x="759.65"/><use href="#O" x="790"/>
<text class="mn" x="32.2" y="-7.3">113</text><text class="mn" x="274.9" y="-7.3">114</text><text class="mn" x="517.5" y="-7.3">115</text><text class="mn" x="760.2" y="-7.3">116</text>
<text class="lb" x="273" y="76.5">200<tspan class="s" x="273" dy="13">117635</tspan><tspan class="p" x="273" dy="13.2">50.00%</tspan></text>
<text class="lb" x="515.7" y="76.5">200<tspan class="s" x="515.7" dy="13">118835</tspan><tspan class="p" x="515.7" dy="13.2">50.00%</tspan></text>
<text class="lb" x="758.3" y="76.5">200<tspan class="s" x="758.3" dy="13">120035</tspan><tspan class="p" x="758.3" dy="13.2">50.00%</tspan></text>
<text class="lb" x="1001" y="76.5">50<tspan class="s" x="1001" dy="13">120335</tspan><tspan class="p" x="1001" dy="13.2">50.00%</tspan></text>
</g>

<g id="row30" transform="translate(0,4294.7)">
<use href="#staff"/>
<use href="#PA" x="31.7"/><use href="#PB" x="274.35"/><use href="#PA" x="517"/><use href="#PB" x="759.65"/>
<rect class="pk" x="31.7" y="-.7" width="2.6" height="62.4"/>
<rect class="bo" x="34.3" y="-.7" width="968" height="62.4"/>
<text class="mn" x="32.2" y="-7.3">117</text><text class="mn" x="274.9" y="-7.3">118</text><text class="mn" x="517.5" y="-7.3">119</text><text class="mn" x="760.2" y="-7.3">120</text>
<text class="lb" x="273" y="76.5">250<tspan class="s" x="273" dy="13">123335</tspan><tspan class="p" x="273" dy="13.2">37.77%</tspan></text>
<text class="lb" x="515.7" y="76.5">250<tspan class="s" x="515.7" dy="13">126335</tspan><tspan class="p" x="515.7" dy="13.2">25.27%</tspan></text>
<text class="lb" x="758.3" y="76.5">250<tspan class="s" x="758.3" dy="13">129335</tspan><tspan class="p" x="758.3" dy="13.2">12.77%</tspan></text>
<text class="lb" x="1001" y="76.5">250<tspan class="s" x="1001" dy="13">132335</tspan><tspan class="p" x="1001" dy="13.2">0.27%</tspan></text>
</g>

<g id="row31" transform="translate(0,4435.7)">
<use href="#staff"/>
<use href="#PA" x="31.7"/><use href="#PB" x="274.35"/><use href="#PA" x="517"/><use href="#PB" x="759.65"/>
<rect class="bo" x="31.7" y="-.7" width="485.3" height="62.4"/>
<rect class="pk" x="517" y="-.7" width="14.7" height="62.4"/>
<text class="mn" x="32.2" y="-7.3">121</text><text class="mn" x="274.9" y="-7.3">122</text><text class="mn" x="517.5" y="-7.3">123</text><text class="mn" x="760.2" y="-7.3">124</text>
<text class="lb" x="273" y="76.5">250<tspan class="s" x="273" dy="13">135335</tspan><tspan class="p" x="273" dy="13.2">0.00%</tspan></text>
<text class="lb" x="515.7" y="76.5">250<tspan class="s" x="515.7" dy="13">138335</tspan><tspan class="p" x="515.7" dy="13.2">0.00%</tspan></text>
<text class="lb" x="758.3" y="76.5">250<tspan class="s" x="758.3" dy="13">140135</tspan><tspan class="p" x="758.3" dy="13.2">0.00%</tspan></text>
<text class="lb" x="1001" y="76.5">250<tspan class="s" x="1001" dy="13">141635</tspan><tspan class="p" x="1001" dy="13.2">0.00%</tspan></text>
</g>

<g id="row32" transform="translate(0,4576.7)">
<use href="#staff"/>
<use href="#PA" x="31.7"/><use href="#PB" x="274.35"/><use href="#PA" x="517"/>
<rect class="g" x="850.6" y="-3" width="91" height="6"/>
<use href="#G" x="759.65"/><use href="#G" x="805.1"/><use href="#G" x="850.6"/>
<text class="mn" x="32.2" y="-7.3">125</text><text class="mn" x="274.9" y="-7.3">126</text><text class="mn" x="517.5" y="-7.3">127</text><text class="mn" x="760.2" y="-7.3">128</text>
<text class="lb" x="273" y="76.5">250<tspan class="s" x="273" dy="13">143135</tspan><tspan class="p" x="273" dy="13.2">0.00%</tspan></text>
<text class="lb" x="515.7" y="76.5">250<tspan class="s" x="515.7" dy="13">144635</tspan><tspan class="p" x="515.7" dy="13.2">0.00%</tspan></text>
<text class="lb" x="758.3" y="76.5">250<tspan class="s" x="758.3" dy="13">146135</tspan><tspan class="p" x="758.3" dy="13.2">0.00%</tspan></text>
<text class="lb" x="1001" y="76.5">93<tspan class="s" x="1001" dy="13">146693</tspan><tspan class="p" x="1001" dy="13.2">0.00%</tspan></text>
</g>
</g>
</svg>
